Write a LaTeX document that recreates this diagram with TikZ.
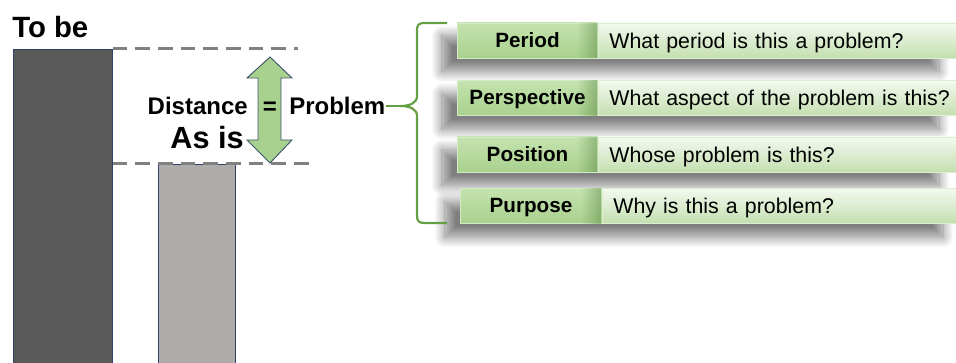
\documentclass[tikz,border=0pt]{standalone}
\usepackage{fontspec}
\setmainfont{Liberation Sans}
\usetikzlibrary{shadows.blur,fadings}

\definecolor{barDark}{HTML}{595959}
\definecolor{barLight}{HTML}{AEABAA}
\definecolor{barEdge}{HTML}{2F4468}
\definecolor{guideGray}{HTML}{808080}
\definecolor{arrowFill}{HTML}{A9D18E}
\definecolor{arrowEdge}{HTML}{3E5470}
\definecolor{braceGreen}{HTML}{64A043}
\definecolor{lblTop}{HTML}{C4E3AF}
\definecolor{lblBot}{HTML}{A9D18E}
\definecolor{lblEdge}{HTML}{D3EBC4}
\definecolor{lblShade}{HTML}{5E8A47}
\definecolor{qTop}{HTML}{F4F9F0}
\definecolor{qBot}{HTML}{C3DFAF}
\definecolor{qEdge}{HTML}{DCEDD1}

\tikzfading[name=fade in right, left color=transparent!100, right color=transparent!0]

\pgfdeclarelayer{bg}
\pgfsetlayers{bg,main}

\begin{document}
\begin{tikzpicture}[x=0.75pt,y=-0.75pt,
  bar/.style={draw=barEdge, line width=0.6pt, anchor=north west, inner sep=0pt},
  guide/.style={draw=guideGray, line width=2.25pt, dash pattern=on 11pt off 6pt},
  big/.style={font=\bfseries\fontsize{18}{20}\selectfont, inner sep=0pt},
  arrowshape/.style={fill=arrowFill, draw=arrowEdge, line width=0.7pt, line join=miter},
  brace/.style={draw=braceGreen, line width=1.6pt},
  lbl/.style={draw=lblEdge, line width=0.6pt, top color=lblTop, bottom color=lblBot,
    minimum height=26.25pt, inner sep=0pt, text height=12.5pt, text depth=2pt,
    font=\bfseries\fontsize{15.5}{17}\selectfont},
  qbox/.style={draw=qEdge, line width=0.5pt, top color=qTop, bottom color=qBot,
    minimum height=26.25pt, inner xsep=8pt, inner ysep=0pt, align=left,
    text width=262pt, text height=13.5pt, text depth=2pt,
    font=\fontsize{16}{18}\selectfont},
  rowshadow/.style={fill=white, blur shadow={shadow xshift=-11pt, shadow yshift=-10pt,
    shadow blur radius=8pt, shadow blur steps=16, shadow opacity=50}},
  bevel/.style={fill=lblShade, path fading=fade in right, opacity=0.5}
]
\useasboundingbox (0,0) rectangle (956,363);

% --- bars ---
\node[bar, fill=barDark, minimum width=74.25pt, minimum height=236pt] (tobe) at (13,49) {};
\node[bar, fill=barLight, minimum width=57.75pt, minimum height=150pt] (asis) at (158,164) {};

% --- guide lines ---
\coordinate (g1) at (298,49);
\coordinate (g2) at (313,164);
\draw[guide] (tobe.north east) -- (g1);
\draw[guide] (tobe.east |- asis.north) -- (g2);

% --- labels ---
\node[anchor=west, inner sep=0pt, font=\bfseries\fontsize{22}{24}\selectfont] (tobeTxt) at (12,27) {To be};
\node[big, anchor=east] (dist) at (248,106) {Distance};
\node[anchor=east, inner sep=0pt, font=\bfseries\fontsize{23}{25}\selectfont] (asisTxt) at (244,138) {As is};

% --- double arrow ---
\draw[arrowshape] (270,57) -- (292,78) -- (281,78) -- (281,140) -- (292,140) -- (270,163)
  -- (247,140) -- (258,140) -- (258,78) -- (247,78) -- cycle;
\node[big] (eq) at (270,108) {=};
\node[big, anchor=west] (prob) at (289,106) {Problem};

% --- brace ---
\coordinate (tip) at (400,106);
\draw[brace] (prob.east) -- (tip);
\draw[brace] (447,23) -- (424,23) .. controls (419,23) and (417,25) .. (417,30) -- (417,96)
  .. controls (417,103) and (410,106) .. (tip)
  .. controls (410,106) and (417,109) .. (417,116) -- (417,216)
  .. controls (417,221) and (419,223) .. (424,223) -- (447,223);

% --- rows ---
\node[lbl, minimum width=105.75pt] (l1) at (527.5,40.5) {Period};
\node[lbl, minimum width=105.75pt] (l2) at (527.5,98) {Perspective};
\node[lbl, minimum width=105.75pt] (l3) at (527.5,154.5) {Position};
\node[lbl, minimum width=106.5pt] (l4) at (531,206) {Purpose};

\node[qbox, anchor=west] (q1) at (l1.east) {What period is this a problem?};
\node[qbox, anchor=west] (q2) at (l2.east) {What aspect of the problem is this?};
\node[qbox, anchor=west] (q3) at (l3.east) {Whose problem is this?};
\node[qbox, anchor=west] (q4) at (l4.east) {Why is this a problem?};

\foreach \i in {1,2,3,4}{
  \fill[bevel] ([xshift=-16pt]l\i.north east) rectangle ([xshift=-1pt]l\i.south east);
}

\begin{pgfonlayer}{bg}
  \foreach \i in {1,2,3,4}{
    \fill[rowshadow] (l\i.north west) rectangle ([xshift=-12pt]q\i.south east);
  }
\end{pgfonlayer}
\end{tikzpicture}
\end{document}
